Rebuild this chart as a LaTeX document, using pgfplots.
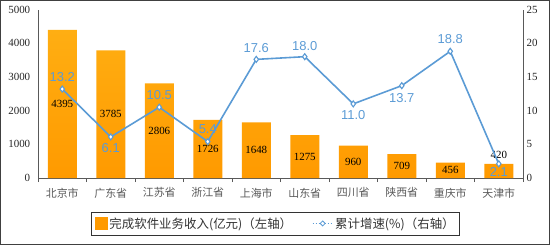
\documentclass[border=0pt]{standalone}
\usepackage{pgfplots}
\pgfplotsset{compat=1.18}
\usepackage{pgfplotstable}
\usepackage{fontspec}
\setmainfont{Liberation Serif}
\newfontfamily\cjk{Noto Sans CJK SC}
\newfontfamily\labf{Liberation Sans}
\definecolor{barTop}{HTML}{FFAE12}
\definecolor{barBot}{HTML}{FF9A00}
\definecolor{lineB}{HTML}{5B9BD5}
\definecolor{axisG}{HTML}{595959}
\pgfplotstableread{
x v g dy
0 4395 13.2 12
1 3785 6.1 -11
2 2806 10.5 12
3 1726 5.4 13
4 1648 17.6 11
5 1275 18.0 11
6 960 11.0 -11
7 709 13.7 -12
8 456 18.8 12
9 420 2.1 -8
}\data
\begin{document}
\begin{tikzpicture}[x=1bp,y=1bp]
\useasboundingbox (0,0) rectangle (550,245);
\draw[black!75, line width=1.2bp] (0.6,0.6) rectangle (549.4,244.4);
\pgfplotsset{
  base/.style={
    at={(38bp,67bp)}, anchor=south west, scale only axis,
    width=485bp, height=168.5bp,
    xmin=-0.5, xmax=9.5,
    axis line style={axisG, line width=0.8bp},
    /pgf/number format/assume math mode=true,
    /pgf/number format/1000 sep={},
    y tick label style={font=\fontsize{11}{12}\selectfont, text=black!85},
    major y tick style={draw=none},
  }
}
\begin{axis}[base,
  ymin=0, ymax=5000,
  axis y line*=left, axis x line*=bottom,
  xtick={0,...,9},
  xticklabels={北京市,广东省,江苏省,浙江省,上海市,山东省,四川省,陕西省,重庆市,天津市},
  x tick label style={font=\cjk\fontsize{11}{12}\selectfont, text=axisG, yshift=-2bp},
  major x tick style={draw=none},
  minor xtick={-0.5,0.5,...,9.5},
  minor tick length=4bp,
  minor x tick style={axisG, line width=0.8bp},
  tick align=outside,
  ytick={0,1000,...,5000},
]
\addplot[ybar, bar width=29bp, draw=none, top color=barTop, bottom color=barBot] table[x=x,y=v]{\data};
\addplot[draw=none, mark=none, nodes near coords, point meta=explicit symbolic,
  nodes near coords style={anchor=center, font=\fontsize{11}{12}\selectfont, text=black}]
  table[x=x, y expr={\thisrow{v}<440 ? \thisrow{v}+280 : \thisrow{v}/2}, meta=v]{\data};
\end{axis}
\begin{axis}[base,
  ymin=0, ymax=25,
  axis y line*=right, axis x line=none,
  ytick={0,5,...,25},
  legend columns=2,
  legend style={at={(0.49,-0.27)}, anchor=center, draw=black!80, line width=0.8bp,
    font=\cjk\fontsize{12.5}{14}\selectfont, text=black!80, inner xsep=3bp, inner ysep=3.5bp,
    /tikz/every even column/.append style={column sep=18bp}},
]
\addlegendimage{legend image code/.code={\fill[barBot] (0bp,-6bp) rectangle (12bp,6bp);}}
\addlegendentry{完成软件业务收入(亿元)（左轴）}
\addplot[lineB, line width=1.6bp, mark=diamond*, mark size=3bp,
  mark options={fill=white, draw=lineB, line width=1.1bp},
  nodes near coords, point meta=explicit symbolic,
  visualization depends on={\thisrow{dy} \as \dy},
  nodes near coords style={anchor=center, yshift=\dy, font=\labf\fontsize{13}{14}\selectfont, text=lineB},
  legend image code/.code={\draw[lineB, line width=1bp, dash pattern=on 1.5bp off 1.5bp] (0bp,0bp) -- (20bp,0bp);
    \path[draw=lineB, fill=white, line width=0.8bp] (10bp,2.5bp) -- (12.5bp,0bp) -- (10bp,-2.5bp) -- (7.5bp,0bp) -- cycle;}]
  table[x=x, y=g, meta=g]{\data};
\addlegendentry{累计增速(\%)（右轴）}
\end{axis}
\end{tikzpicture}
\end{document}
